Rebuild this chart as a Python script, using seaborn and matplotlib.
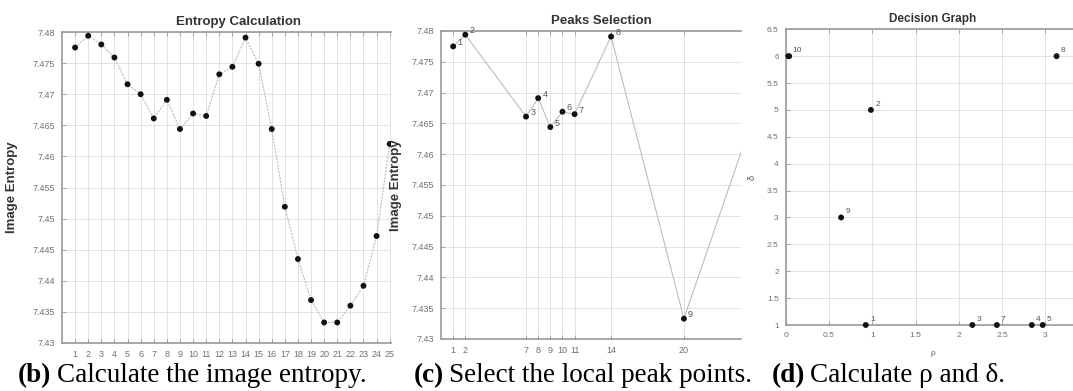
import matplotlib
matplotlib.use("Agg")
import matplotlib.pyplot as plt
import seaborn as sns

# =====================================================
# DATA
# =====================================================

frames = list(range(1, 26))
entropy = [7.4775, 7.4794, 7.4780, 7.4759, 7.4716, 7.4700, 7.4661, 7.4691,
           7.4644, 7.4669, 7.4665, 7.4732, 7.4744, 7.4791, 7.4749, 7.4644,
           7.4519, 7.4435, 7.4369, 7.4333, 7.4333, 7.4360, 7.4392, 7.4472,
           7.4620]

peak_frames = [1, 2, 7, 8, 9, 10, 11, 14, 20, 25]
peak_entropy = [7.4775, 7.4794, 7.4661, 7.4691, 7.4644, 7.4669, 7.4665,
                7.4791, 7.4333, 7.4620]
peak_labels = ["1", "2", "3", "4", "5", "6", "7", "8", "9", "10"]

# decision graph (rho, delta) per peak; peak 6 sits under peak 10
rho = [0.925, 0.985, 2.157, 2.844, 2.970, 0.040, 2.440, 3.130, 0.640, 0.030]
delta = [1, 5, 1, 1, 1, 6, 1, 6, 3, 6]
dg_labels = ["1", "2", "3", "4", "5", "", "7", "8", "9", "10"]

entropy_yticks = [7.43, 7.435, 7.44, 7.445, 7.45, 7.455, 7.46, 7.465,
                  7.47, 7.475, 7.48]
entropy_yticklabels = ["7.43", "7.435", "7.44", "7.445", "7.45", "7.455",
                       "7.46", "7.465", "7.47", "7.475", "7.48"]
dg_xticks = [0, 0.5, 1, 1.5, 2, 2.5, 3]
dg_yticks = [1, 1.5, 2, 2.5, 3, 3.5, 4, 4.5, 5, 5.5, 6, 6.5]

# =====================================================
# STYLE
# =====================================================

sns.set_theme(style="whitegrid")
plt.rcParams["font.family"] = ["Liberation Sans", "DejaVu Sans"]

W, H = 1073, 391
fig = plt.figure(figsize=(W / 100, H / 100), dpi=100)

GRID = "#e2e2e2"
SPINE = "#9a9a9a"
TICK = "#707070"
LINE = "#bdbdbd"


def px_axes(left, top, right, bottom):
    return fig.add_axes([left / W, 1 - bottom / H, (right - left) / W,
                         (bottom - top) / H])


def style_axes(ax, size=6.5):
    ax.set_facecolor("white")
    ax.grid(True, color=GRID, linewidth=0.7)
    for side in ["top", "bottom", "left"]:
        ax.spines[side].set_visible(True)
        ax.spines[side].set_color(SPINE)
        ax.spines[side].set_linewidth(1.2)
    ax.spines["right"].set_visible(False)
    ax.tick_params(axis="both", which="major", direction="in", length=3,
                   width=0.6, color=SPINE, labelsize=size, labelcolor=TICK,
                   pad=5, top=True, bottom=True, left=True)


# =====================================================
# PANEL (b): ENTROPY CALCULATION
# =====================================================

ax_b = px_axes(62, 32, 391, 343)
sns.lineplot(x=frames, y=entropy, ax=ax_b, color=LINE, linewidth=0.8,
             linestyle=(0, (2, 1)))
sns.scatterplot(x=frames, y=entropy, ax=ax_b, color="#111111", s=18,
                edgecolor="none", zorder=3)
ax_b.set_xlim(0, 25.1)
ax_b.set_ylim(7.43, 7.48)
ax_b.set_xticks(frames)
ax_b.set_xticklabels([str(f) for f in frames])
ax_b.set_yticks(entropy_yticks)
ax_b.set_yticklabels(entropy_yticklabels)
style_axes(ax_b)
ax_b.set_title("Entropy Calculation", x=0.537, pad=5, fontsize=9.5,
               fontweight="bold", color="#333333")
ax_b.set_ylabel("Image Entropy", fontsize=9.5, fontweight="bold",
                color="#333333")
ax_b.yaxis.set_label_coords(-0.134, 0.5)

# =====================================================
# PANEL (c): PEAKS SELECTION
# =====================================================

ax_c = px_axes(441, 31, 741, 339)
sns.lineplot(x=peak_frames, y=peak_entropy, ax=ax_c, color=LINE,
             linewidth=0.8)
sns.scatterplot(x=peak_frames, y=peak_entropy, ax=ax_c, color="#111111",
                s=18, edgecolor="none", zorder=3)
for fx, fy, lab in zip(peak_frames, peak_entropy, peak_labels):
    ax_c.annotate(lab, (fx, fy), xytext=(3, 1), textcoords="offset points",
                  fontsize=6.5, color="#555555", annotation_clip=True)
ax_c.set_xlim(0, 24.7)
ax_c.set_ylim(7.43, 7.48)
ax_c.set_xticks(peak_frames[:-1])
ax_c.set_xticklabels([str(f) for f in peak_frames[:-1]])
ax_c.set_yticks(entropy_yticks)
ax_c.set_yticklabels(entropy_yticklabels)
style_axes(ax_c)
ax_c.set_title("Peaks Selection", x=0.534, pad=5, fontsize=9.5,
               fontweight="bold", color="#333333")
ax_c.set_ylabel("Image Entropy", fontsize=9.5, fontweight="bold",
                color="#333333")
ax_c.yaxis.set_label_coords(-0.129, 0.5)

# =====================================================
# PANEL (d): DECISION GRAPH
# =====================================================

ax_d = px_axes(785.7, 29.3, 1073, 325)
sns.scatterplot(x=rho, y=delta, ax=ax_d, color="#111111", s=18,
                edgecolor="none", zorder=3, clip_on=False)
for rx, dy, lab in zip(rho, delta, dg_labels):
    if lab:
        ax_d.annotate(lab, (rx, dy), xytext=(3, 3),
                      textcoords="offset points", fontsize=6,
                      color="#555555")
ax_d.set_xlim(0, 3.32)
ax_d.set_ylim(1, 6.5)
ax_d.set_xticks(dg_xticks)
ax_d.set_xticklabels([str(v) for v in dg_xticks])
ax_d.set_yticks(dg_yticks)
ax_d.set_yticklabels([str(v) for v in dg_yticks])
style_axes(ax_d, size=6)
ax_d.set_title("Decision Graph", x=0.513, pad=5, fontsize=8.5,
               fontweight="bold", color="#333333")
ax_d.set_ylabel("δ", fontsize=6.5, color="#555555")
ax_d.yaxis.set_label_coords(-0.1, 0.5)
ax_d.set_xlabel("ρ", fontsize=6, color="#555555")
ax_d.xaxis.set_label_coords(0.513, -0.085)

# =====================================================
# CAPTIONS
# =====================================================

serif = ["Liberation Serif", "DejaVu Serif"]
cap_y = 1 - 382 / H
captions = [
    (18, 57, "(b)", "Calculate the image entropy."),
    (414, 449, "(c)", "Select the local peak points."),
    (772, 810, "(d)", "Calculate ρ and δ."),
]
for x_tag, x_txt, tag, txt in captions:
    fig.text(x_tag / W, cap_y, tag, family=serif, fontsize=19.5,
             fontweight="bold", color="black", va="baseline")
    fig.text(x_txt / W, cap_y, txt, family=serif, fontsize=19.5,
             color="black", va="baseline")

fig.savefig("out.png", dpi=100)
plt.close(fig)
print("saved out.png")
